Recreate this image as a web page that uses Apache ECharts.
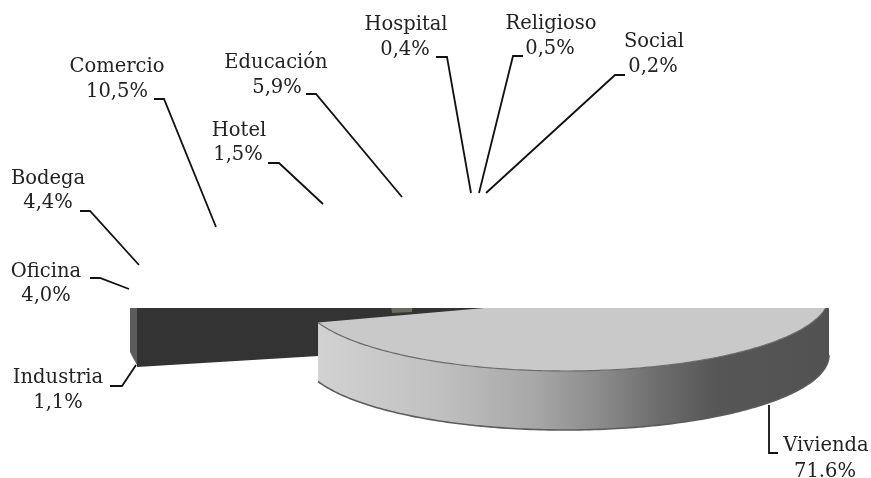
<!DOCTYPE html>
<html>
<head>
<meta charset="utf-8">
<style>html,body{margin:0;padding:0;background:#fff}#c{width:871px;height:478px}</style>
<script src="https://cdn.jsdelivr.net/npm/echarts@6/dist/echarts.min.js"></script>
</head>
<body>
<div id="c"></div>
<script>
// Data
const categories = ['Vivienda','Social','Religioso','Hospital','Educación','Hotel','Comercio','Bodega','Oficina','Industria'];
const values = [71.6,0.2,0.5,0.4,5.9,1.5,10.5,4.4,4.0,1.1];
const valueLabels = ['71.6%','0,2%','0,5%','0,4%','5,9%','1,5%','10,5%','4,4%','4,0%','1,1%'];

// Layout of the labels and their leader lines (not data)
const labelCentres = [[826,446,825,472],[654,42,653,67],[551,24,550,49],[406,25,405,50],[276,63,277,88],[239,131,238,155],[117,67,117,92],[48,179,48,203],[46,272,46,296],[58,378,58,403]];
const leaders = [
  [[778,453],[769,453],[769,405]],
  [[625,75],[615,75],[486,193]],
  [[523,56],[513,56],[479,193]],
  [[436,57],[447,57],[471,193]],
  [[306,94],[316,94],[402,197]],
  [[268,163],[279,163],[323,204]],
  [[154,99],[164,99],[216,227]],
  [[80,211],[90,211],[139,265]],
  [[90,278],[100,278],[129,289]],
  [[110,386],[122,386],[136,365]]
];
const pie = {cx:565, cy:296, rx:264, ry:75, hubY:301, depth:59, start:159.3};
const rest = {cx:398, cy:292, rx:268, ry:74};
const clipY = 308;
const FONT = '19.5px "DejaVu Serif"';
const total = values.reduce((a,b)=>a+b,0);

function rim(c,t){const r=t*Math.PI/180;return [c.cx+c.rx*Math.cos(r),c.cy+c.ry*Math.sin(r)];}
function arc(c,a,b){const p=[],n=Math.max(2,Math.ceil(Math.abs(a-b)));for(let i=0;i<=n;i++)p.push(rim(c,a+(b-a)*i/n));return p;}
const below = {type:'rect',shape:{x:0,y:clipY,width:871,height:478-clipY}};
const above = {type:'rect',shape:{x:0,y:0,width:871,height:clipY}};
const wallFill = {type:'linear',x:318,y:0,x2:828,y2:0,global:true,colorStops:[
  {offset:0,color:'#d2d2d2'},{offset:.24,color:'#c0c0c0'},{offset:.42,color:'#a8a8a8'},
  {offset:.55,color:'#8c8c8c'},{offset:.68,color:'#6a6a6a'},{offset:.78,color:'#565656'},{offset:1,color:'#525252'}]};

function renderItem(params, api){
  const i = params.dataIndex;
  let before = 0;
  for(let k=0;k<i;k++) before += values[k];
  const t0 = pie.start - before/total*360;
  const t1 = t0 - api.value(0)/total*360;
  const kids = [];
  if(i===0){
    const top = arc(pie,t0,t1);
    const wallTop = arc(pie,t0,0);
    const wallBottom = wallTop.map(p=>[p[0],p[1]+pie.depth]).reverse();
    kids.push({type:'polygon',z2:5,clipPath:below,shape:{points:wallTop.concat(wallBottom)},style:{fill:wallFill}});
    kids.push({type:'polyline',z2:6,clipPath:below,shape:{points:wallBottom},style:{fill:null,stroke:'#5c5c5c',lineWidth:1.6}});
    kids.push({type:'polygon',z2:7,clipPath:below,shape:{points:[[pie.cx,pie.hubY]].concat(top)},style:{fill:'#c9c9c9'}});
    kids.push({type:'polyline',z2:8,clipPath:below,shape:{points:wallTop},style:{fill:null,stroke:'#6a6a6a',lineWidth:1.2}});
  } else {
    kids.push({type:'polygon',z2:1,clipPath:above,shape:{points:[[rest.cx,rest.cy]].concat(arc(rest,t0,t1))},style:{fill:'#ffffff'}});
    if(i===categories.length-1){
      kids.push({type:'polygon',z2:2,clipPath:below,shape:{points:[[137,300],[500,285],[500,345],[137,367]]},style:{fill:'#333333'}});
      kids.push({type:'polygon',z2:3,clipPath:below,shape:{points:[[130,300],[137,300],[137,365],[133,358],[130,352]]},style:{fill:'#5c5c5c'}});
      kids.push({type:'polygon',z2:3,clipPath:below,shape:{points:[[390,300],[413,300],[412,312],[392,313]]},style:{fill:'#6b6b5e'}});
    }
  }
  const c = labelCentres[i];
  kids.push({type:'polyline',z2:20,shape:{points:leaders[i]},style:{fill:null,stroke:'#111',lineWidth:1.8}});
  kids.push({type:'text',z2:21,style:{text:categories[i],x:c[0],y:c[1],align:'center',verticalAlign:'middle',font:FONT,fill:'#222'}});
  kids.push({type:'text',z2:21,style:{text:valueLabels[i],x:c[2],y:c[3],align:'center',verticalAlign:'middle',font:FONT,fill:'#222'}});
  return {type:'group',children:kids};
}

const chart = echarts.init(document.getElementById('c'),null,{renderer:'canvas'});
chart.setOption({
  animation:false,
  backgroundColor:'#ffffff',
  series:[{type:'custom',coordinateSystem:'none',silent:true,renderItem:renderItem,
    data:values.map((v,i)=>({name:categories[i],value:[v]}))}]
});
</script>
</body>
</html>
